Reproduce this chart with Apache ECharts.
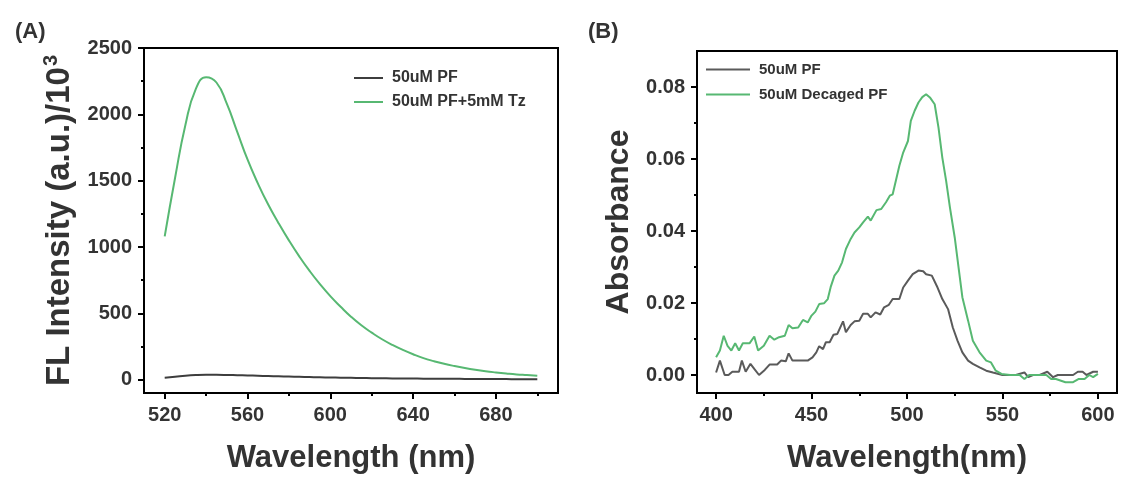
<!DOCTYPE html>
<html>
<head>
<meta charset="utf-8">
<title>PF spectra</title>
<script src="https://cdn.jsdelivr.net/npm/echarts@6/dist/echarts.min.js"></script>
<style>
    html, body { margin: 0; padding: 0; background: #fff; }
    .wrap { position: relative; width: 1121px; height: 477px; }
    .chartA { position: absolute; left: 0; top: 0; width: 560px; height: 477px; }
    .chartB { position: absolute; left: 560px; top: 0; width: 561px; height: 477px; }
</style>
</head>
<body>
<div class="wrap">
    <div class="chartA"></div>
    <div class="chartB"></div>
</div>
<script>
// (A) fluorescence, wavelength in nm, intensity in a.u./10^3
var wlA = [520, 525, 530, 535, 540, 545, 550, 555, 560, 565, 570, 575, 580, 585, 590, 595, 600, 605, 610,
    615, 620, 625, 630, 635, 640, 645, 650, 655, 660, 665, 670, 675, 680, 685, 690, 695, 700];
var pfA = [15, 22, 30, 35, 37, 37, 36, 34, 32, 30, 28, 26, 24, 22, 20, 18, 17, 15, 14,
    13, 12, 11, 10, 10, 9, 8, 8, 7, 7, 6, 6, 5, 5, 5, 4, 4, 4];
var pfTzA = [1080, 1520, 1920, 2190, 2280, 2240, 2080, 1870, 1660, 1480, 1320, 1180, 1050, 930, 820, 720, 630, 550, 475,
    410, 355, 305, 262, 225, 192, 163, 140, 120, 103, 88, 75, 64, 55, 47, 40, 35, 30];
var xTicksA = [520, 560, 600, 640, 680];
var xMinorA = [540, 580, 620, 660, 700];
var yTicksA = [0, 500, 1000, 1500, 2000, 2500];
var yMinorA = [250, 750, 1250, 1750, 2250];

// (B) absorbance
var wlPfB = [400, 402, 404.5, 406.5, 408.5, 412, 413.5, 415.5, 418, 420, 422.5, 425.5, 428, 432, 434, 436.5, 438, 440,
    443, 445.5, 448, 450.5, 452.5, 454, 456, 457.5, 459.5, 461.5, 463.5, 466.5, 468, 470.5, 472.5, 475, 477, 479.5,
    481, 483.5, 486, 488, 490.5, 492.5, 496, 498, 500.5, 503, 506, 508.5, 510, 513, 516, 518.5, 521.5, 524, 526.5,
    529, 532, 534.5, 538, 541.5, 545, 550, 554, 557, 561.5, 563.5, 566, 569.5, 573.5, 576.5, 579, 582.5, 587, 589.5,
    592, 594, 597.5, 600];
var pfB = [0.0007, 0.0040, 0.0000, 0.0000, 0.0009, 0.0009, 0.0040, 0.0009, 0.0031, 0.0017, 0.0000, 0.0014, 0.0029, 0.0029, 0.0040, 0.0038, 0.0060, 0.0040,
    0.0040, 0.0040, 0.0040, 0.0049, 0.0063, 0.0080, 0.0072, 0.0091, 0.0091, 0.0112, 0.0114, 0.0149, 0.0119, 0.0139, 0.0149, 0.0151, 0.0170, 0.0170,
    0.0160, 0.0174, 0.0168, 0.0188, 0.0195, 0.0211, 0.0211, 0.0243, 0.0262, 0.0280, 0.0290, 0.0288, 0.0280, 0.0276, 0.0243, 0.0211, 0.0183, 0.0132, 0.0095,
    0.0063, 0.0040, 0.0031, 0.0021, 0.0012, 0.0007, 0.0000, 0.0000, 0.0000, 0.0007, -0.0006, 0.0000, 0.0000, 0.0009, -0.0006, 0.0000, 0.0000, 0.0000, 0.0009,
    0.0009, 0.0000, 0.0009, 0.0009];
var wlDecB = [400, 402, 404, 406, 408, 410, 412, 414, 417.5, 420, 422, 425, 428, 430.5, 433, 436, 438, 440, 443, 445.5,
    448, 450, 452, 454, 456.5, 458.5, 460, 462, 464, 466, 468, 470.5, 472.5, 475, 477, 479.5, 481, 484, 486.5, 489,
    491, 492.5, 496, 498, 500.5, 502, 504, 506, 508, 510, 512, 514.5, 516.5, 518.5, 520.5, 522.5, 525, 527, 529, 532,
    534.5, 538, 541.5, 544, 546.5, 549.5, 554, 559, 561.5, 564, 569.5, 573, 575.5, 578, 583, 587, 590, 593, 595.5, 597.5, 600];
var decB = [0.0049, 0.0068, 0.0109, 0.0081, 0.0068, 0.0088, 0.0068, 0.0088, 0.0088, 0.0107, 0.0068, 0.0081, 0.0109, 0.0098, 0.0105, 0.0109, 0.0139, 0.0130, 0.0132, 0.0153,
    0.0146, 0.0165, 0.0176, 0.0197, 0.0199, 0.0211, 0.0244, 0.0276, 0.0290, 0.0313, 0.0350, 0.0378, 0.0396, 0.0410, 0.0424, 0.0440, 0.0429, 0.0458, 0.0461, 0.0480,
    0.0498, 0.0502, 0.0581, 0.0618, 0.0650, 0.0706, 0.0734, 0.0757, 0.0772, 0.0780, 0.0771, 0.0752, 0.0687, 0.0604, 0.0539, 0.0465, 0.0382, 0.0299, 0.0216, 0.0151,
    0.0095, 0.0063, 0.0040, 0.0035, 0.0012, 0.0003, 0.0000, 0.0000, -0.0011, 0.0000, 0.0000, 0.0000, -0.0011, -0.0011, -0.0020, -0.0020, -0.0011, -0.0011, 0.0000, -0.0006, 0.0003];
var xTicksB = [400, 450, 500, 550, 600];
var xMinorB = [425, 475, 525, 575];
var yTicksB = [0, 0.02, 0.04, 0.06, 0.08];
var yMinorB = [0.01, 0.03, 0.05, 0.07];

var FONT = 'Arial, "Liberation Sans", sans-serif';
var TXT = '#333';
var GREEN = '#57b872';

function pairs(xs, ys) {
    var out = [];
    for (var i = 0; i < xs.length; i++) out.push([xs[i], ys[i]]);
    return out;
}

// main axis + a second one that only draws the short minor ticks
function axisPair(min, max, ticks, minor, extra) {
    var main = {
        type: 'value', min: min, max: max, splitLine: { show: false },
        axisLine: { onZero: false, lineStyle: { color: '#000', width: 2 } },
        axisTick: { customValues: ticks, length: 6, lineStyle: { color: '#000', width: 2 } },
        axisLabel: {
            customValues: ticks, fontSize: 20, fontWeight: 'bold', color: TXT, fontFamily: FONT, margin: 12,
            formatter: function (v) { return String(v); }
        }
    };
    for (var k in extra) main[k] = extra[k];
    var sub = {
        type: 'value', min: min, max: max, splitLine: { show: false },
        position: main.position,
        axisLine: { show: false, onZero: false },
        axisLabel: { show: false },
        axisTick: { customValues: minor, length: 3, lineStyle: { color: '#000', width: 2 } }
    };
    return [main, sub];
}

function legendOf(left, top, size, w, gap, names, fmt) {
    return {
        orient: 'vertical', left: left, top: top, data: names,
        icon: 'rect', itemWidth: w, itemHeight: 2, itemGap: gap,
        formatter: fmt,
        textStyle: { fontSize: size, lineHeight: size, fontWeight: 'bold', color: TXT, fontFamily: FONT, padding: [0, 0, 0, 4] }
    };
}

// (A) 荧光光谱
function drawA() {
    var myChart = echarts.init(document.querySelector('.chartA'));
    var xs = axisPair(510, 710, xTicksA, xMinorA, {
        position: 'bottom', name: 'Wavelength (nm)', nameLocation: 'middle', nameGap: 50,
        nameTextStyle: { fontSize: 31, fontWeight: 'bold', color: TXT, fontFamily: FONT }
    });
    var ys = axisPair(-100, 2500, yTicksA, yMinorA, {
        position: 'left', name: '{a|FL Intensity (a.u.)/10}{s|3}', nameLocation: 'middle', nameGap: 67,
        nameTextStyle: {
            color: TXT, fontFamily: FONT,
            rich: {
                a: { fontSize: 33, fontWeight: 'bold', color: TXT, fontFamily: FONT, verticalAlign: 'bottom' },
                s: { fontSize: 20, fontWeight: 'bold', color: TXT, fontFamily: FONT, verticalAlign: 'bottom', padding: [0, 0, 15, 1] }
            }
        }
    });
    var option = {
        animation: false,
        title: { text: '(A)', left: 10, top: 16, textStyle: { fontSize: 22, fontWeight: 'bold', color: TXT, fontFamily: FONT } },
        grid: { left: 144, top: 48, width: 414, height: 345, show: true, borderColor: '#000', borderWidth: 2, outerBoundsMode: 'none' },
        legend: legendOf(349, 65, 16, 29, 8, ['50uM PF', '50uM PF+5mM Tz']),
        xAxis: xs,
        yAxis: ys,
        series: [
            { name: '50uM PF', type: 'line', showSymbol: false, smooth: true, color: '#3d3d3d', lineStyle: { width: 2 }, data: pairs(wlA, pfA) },
            { name: '50uM PF+5mM Tz', type: 'line', showSymbol: false, smooth: true, color: GREEN, lineStyle: { width: 2 }, data: pairs(wlA, pfTzA) }
        ]
    };
    myChart.setOption(option);
}
drawA();

// (B) 吸收光谱
function drawB() {
    var myChart = echarts.init(document.querySelector('.chartB'));
    var xs = axisPair(390, 610, xTicksB, xMinorB, {
        position: 'bottom', name: 'Wavelength(nm)', nameLocation: 'middle', nameGap: 50,
        nameTextStyle: { fontSize: 31, fontWeight: 'bold', color: TXT, fontFamily: FONT }
    });
    var ys = axisPair(-0.005, 0.09, yTicksB, yMinorB, {
        position: 'left', name: 'Absorbance', nameLocation: 'middle', nameGap: 58,
        nameTextStyle: { fontSize: 32, fontWeight: 'bold', color: TXT, fontFamily: FONT }
    });
    ys[0].axisLabel.formatter = function (v) { return v.toFixed(2); };
    var option = {
        animation: false,
        title: { text: '(B)', left: 23, top: 16, textStyle: { fontSize: 22, fontWeight: 'bold', color: TXT, fontFamily: FONT } },
        grid: { left: 137, top: 51, width: 420, height: 342, show: true, borderColor: '#000', borderWidth: 2, outerBoundsMode: 'none' },
        legend: legendOf(141, 57, 15, 44, 10, ['B 50uM PF', '50uM Decaged PF'], function (n) { return n.replace(/^B /, ''); }),
        xAxis: xs,
        yAxis: ys,
        series: [
            { name: 'B 50uM PF', type: 'line', showSymbol: false, color: '#5a5a5a', lineStyle: { width: 2 }, data: pairs(wlPfB, pfB) },
            { name: '50uM Decaged PF', type: 'line', showSymbol: false, color: GREEN, lineStyle: { width: 2 }, data: pairs(wlDecB, decB) }
        ]
    };
    myChart.setOption(option);
}
drawB();
</script>
</body>
</html>
